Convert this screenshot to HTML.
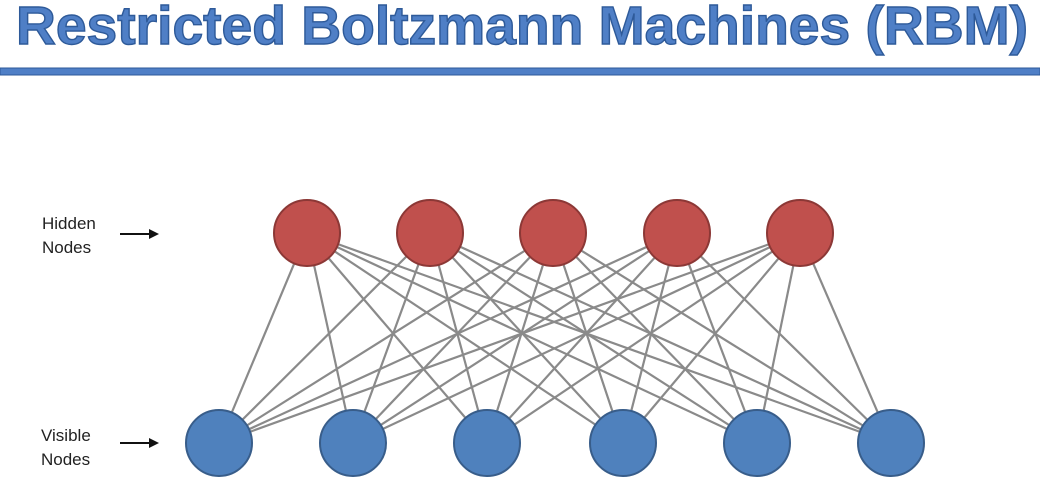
<!DOCTYPE html>
<html><head><meta charset="utf-8"><style>
html,body{margin:0;padding:0;background:#fff;width:1040px;height:486px;overflow:hidden}
</style></head><body>
<svg width="1040" height="486" xmlns="http://www.w3.org/2000/svg">
<rect width="1040" height="486" fill="#fff"/>
<text x="16" y="44" font-family="Liberation Sans, sans-serif" font-weight="bold" font-size="54" fill="#4f7fc6" stroke="#2e5a99" stroke-width="1.4" textLength="1012" lengthAdjust="spacingAndGlyphs">Restricted Boltzmann Machines (RBM)</text>
<rect x="0" y="68" width="1040" height="7" fill="#4f7fc6" stroke="#2e5a99" stroke-width="1"/>
<g stroke="#8a8a8a" stroke-width="2.2" id="lines"></g>
<g id="nodes"></g>
<text font-family="Liberation Sans, sans-serif" font-size="17" fill="#222"><tspan x="42" y="229">Hidden</tspan><tspan x="42" y="253">Nodes</tspan></text>
<text font-family="Liberation Sans, sans-serif" font-size="17" fill="#222"><tspan x="41" y="441">Visible</tspan><tspan x="41" y="465">Nodes</tspan></text>
<g stroke="#111" stroke-width="2"><line x1="120" y1="234" x2="150" y2="234"/><line x1="120" y1="443" x2="150" y2="443"/></g>
<g fill="#111"><polygon points="159,234 149,229 149,239"/><polygon points="159,443 149,438 149,448"/></g>
<script>
var H=[307,430,553,677,800],V=[219,353,487,623,757,891];
var l=document.getElementById('lines'),n=document.getElementById('nodes'),ns='http://www.w3.org/2000/svg';
H.forEach(function(h){V.forEach(function(v){var e=document.createElementNS(ns,'line');e.setAttribute('x1',h);e.setAttribute('y1',233);e.setAttribute('x2',v);e.setAttribute('y2',443);l.appendChild(e);});});
H.forEach(function(h){var c=document.createElementNS(ns,'circle');c.setAttribute('cx',h);c.setAttribute('cy',233);c.setAttribute('r',33);c.setAttribute('fill','#c0504d');c.setAttribute('stroke','#8c3836');c.setAttribute('stroke-width','2');n.appendChild(c);});
V.forEach(function(v){var c=document.createElementNS(ns,'circle');c.setAttribute('cx',v);c.setAttribute('cy',443);c.setAttribute('r',33);c.setAttribute('fill','#4f81bd');c.setAttribute('stroke','#385d8a');c.setAttribute('stroke-width','2');n.appendChild(c);});
</script>
</svg>
</body></html>
